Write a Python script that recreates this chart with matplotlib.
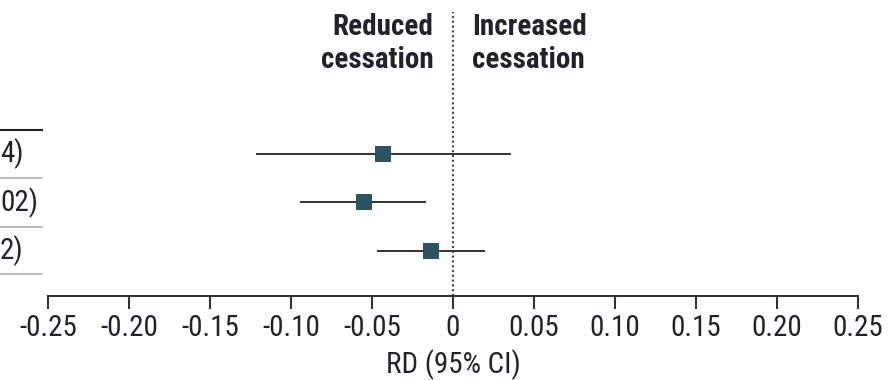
import matplotlib.pyplot as plt

plt.rcParams['font.family'] = ['Roboto Condensed', 'Open Sans Condensed', 'DejaVu Sans Condensed',
                               'Liberation Sans Narrow', 'DejaVu Sans']
plt.rcParams['font.stretch'] = 'condensed'

# risk differences per study row, top to bottom
rd = [-0.043, -0.055, -0.0135]
ci_low = [-0.121, -0.094, -0.046]
ci_high = [0.035, -0.017, 0.019]
# only the tail of the estimate column fits on this panel
rd_tails = ['4)', '02)', '2)']
xticks = [-0.25, -0.20, -0.15, -0.10, -0.05, 0, 0.05, 0.10, 0.15, 0.20, 0.25]
xtick_labels = ['-0.25', '-0.20', '-0.15', '-0.10', '-0.05', '0', '0.05', '0.10', '0.15', '0.20', '0.25']

text_col = '#20242a'
line_col = '#333333'
box_col = '#2c5360'

fig = plt.figure(figsize=(8.92, 3.8), dpi=100)
ax = fig.add_axes([48 / 892, 84 / 380, 810 / 892, 296 / 380])

rows = list(range(len(rd)))
for i in rows:
    ax.plot([ci_low[i], ci_high[i]], [i, i], color=line_col, lw=1.4, zorder=2)
ax.scatter(rd, rows, marker='s', s=125, color=box_col, zorder=3, linewidths=0)

# null line
ax.axvline(0, ymin=0, ymax=0.958, color='#444444', lw=1.5, ls=(0, (1, 1.3)), zorder=1)

ax.set_xlim(-0.25, 0.25)
ax.set_ylim(2.928, -3.175)

# row separators and estimate column on the left
ax.plot([-0.32, -0.2537], [-0.495, -0.495], color='#222222', lw=1.5, clip_on=False)
for y in [0.495, 1.505, 2.474]:
    ax.plot([-0.32, -0.2537], [y, y], color='#b5b5b5', lw=1.3, clip_on=False)
for i, lab in enumerate(rd_tails):
    ax.text(-0.2797, i, lab, ha='left', va='center', fontsize=21, color=text_col, clip_on=False)

for s in ['top', 'right', 'left']:
    ax.spines[s].set_visible(False)
ax.spines['bottom'].set_linewidth(1.5)
ax.spines['bottom'].set_color(line_col)
ax.set_yticks([])
ax.set_xticks(xticks)
ax.set_xticklabels(xtick_labels)
ax.tick_params(axis='x', direction='out', length=9, width=1.5, color=line_col,
               labelsize=21, labelcolor=text_col, pad=4)
ax.set_xlabel('RD (95% CI)', fontsize=21, color=text_col, labelpad=5)

ax.text(-0.012, -2.90, 'Reduced\ncessation', ha='right', va='top', fontsize=21,
        fontweight='bold', color=text_col, linespacing=1.2)
ax.text(0.012, -2.90, 'Increased\ncessation', ha='left', va='top', fontsize=21,
        fontweight='bold', color=text_col, linespacing=1.2)

fig.savefig('out.png', dpi=100)
